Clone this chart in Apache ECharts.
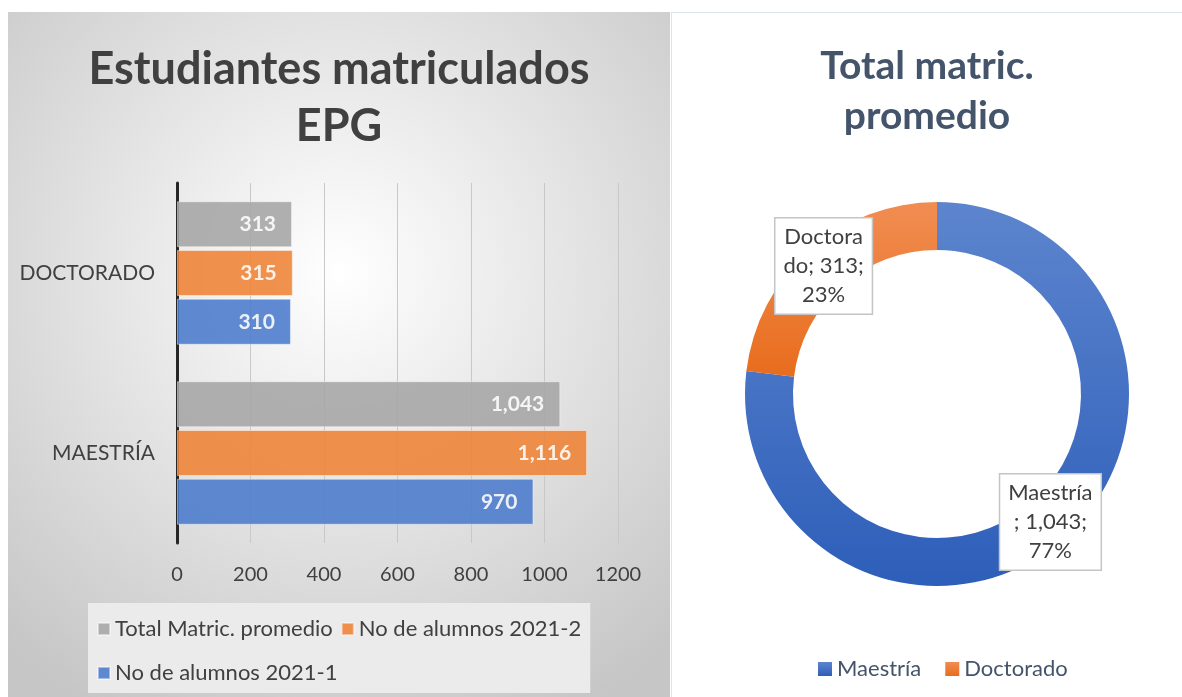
<!DOCTYPE html>
<html>
<head>
<meta charset="utf-8">
<script src="https://cdn.jsdelivr.net/npm/echarts@6/dist/echarts.min.js"></script>
<style>
  html, body { margin: 0; padding: 0; background: #fff; }
  #bar { position: absolute; left: 8px; top: 12px; width: 662px; height: 685px; }
  #pie { position: absolute; left: 671px; top: 12px; width: 511px; height: 685px;
         border-top: 1px solid #dfe4ea; border-left: 1px solid #e2e2e2; box-sizing: border-box; }
</style>
</head>
<body>
<div id="bar"></div>
<div id="pie"></div>
<script>
// datos del grafico de barras (de abajo hacia arriba)
const categories = ['MAESTRÍA', 'DOCTORADO'];
const alumnos2021_1 = [970, 310];
const alumnos2021_2 = [1116, 315];
const totalPromedio = [1043, 313];
const xTicks = [0, 200, 400, 600, 800, 1000, 1200];

// datos del anillo
const pieNames = ['Maestría', 'Doctorado'];
const pieValues = [1043, 313];

const FONT = 'Lato';
const fmt = v => Number(v).toLocaleString('en-US');

// corte de linea por caracteres, como lo hace Excel en las etiquetas
const LABEL_SIZE = 22;
const ctx = document.createElement('canvas').getContext('2d');
ctx.font = LABEL_SIZE + 'px ' + FONT;
const wrapW = Math.max(ctx.measureText('Maestría').width, ctx.measureText('Doctora').width) + 1;
function wrap(text) {
  const lines = [];
  let cur = '';
  for (const ch of text) {
    if (cur && ctx.measureText(cur + ch).width > wrapW) {
      lines.push(cur.trim());
      cur = ch;
    } else {
      cur += ch;
    }
  }
  if (cur) lines.push(cur.trim());
  return lines.join('\n');
}

function barSeries(name, data, color) {
  return {
    name: name,
    type: 'bar',
    data: data,
    barWidth: 46,
    barGap: '6%',
    itemStyle: { color: color, opacity: 0.88, borderColor: 'rgba(255,255,255,0.5)', borderWidth: 1 },
    label: {
      show: true, position: 'insideRight', distance: 16,
      color: '#fff', fontWeight: 'bold', fontSize: 21, fontFamily: FONT,
      formatter: p => fmt(p.value)
    }
  };
}

const barChart = echarts.init(document.getElementById('bar'));
barChart.setOption({
  backgroundColor: {
    type: 'radial', x: 0.5, y: 0.38, r: 0.75,
    colorStops: [{ offset: 0, color: '#ffffff' }, { offset: 1, color: '#c6c6c6' }]
  },
  title: {
    text: 'Estudiantes matriculados\nEPG',
    left: 'center', top: 24,
    textStyle: { fontFamily: FONT, fontSize: 45, fontWeight: 'bold', color: '#404040', lineHeight: 57 }
  },
  grid: { left: 169, top: 171, width: 441, height: 360 },
  xAxis: {
    type: 'value', min: xTicks[0], max: xTicks[xTicks.length - 1], interval: 200,
    axisLine: { show: false }, axisTick: { show: false },
    axisLabel: { fontFamily: FONT, fontSize: 20, color: '#404040', margin: 22, formatter: v => String(v) },
    splitLine: { lineStyle: { color: '#c8c8c8', width: 1 } }
  },
  yAxis: {
    type: 'category', data: categories,
    axisLine: { lineStyle: { color: '#262626', width: 3 } },
    axisTick: { show: false },
    axisLabel: { fontFamily: FONT, fontSize: 21, color: '#404040', margin: 22 }
  },
  legend: {
    data: ['Total Matric. promedio', 'No de alumnos 2021-2', 'No de alumnos 2021-1'],
    left: 80, top: 591, width: 500,
    backgroundColor: '#ebebeb',
    padding: [8, 9, 2, 9],
    itemWidth: 12, itemHeight: 12, itemGap: 8,
    icon: 'rect',
    textStyle: { fontFamily: FONT, fontSize: 22, color: '#404040', lineHeight: 36 }
  },
  series: [
    barSeries('Total Matric. promedio', totalPromedio, '#a5a5a5'),
    barSeries('No de alumnos 2021-2', alumnos2021_2, '#ee8236'),
    barSeries('No de alumnos 2021-1', alumnos2021_1, '#4a7acb')
  ]
});

const pieChart = echarts.init(document.getElementById('pie'));
const pieColors = [
  { type: 'linear', x: 0, y: 0, x2: 0, y2: 1, colorStops: [{ offset: 0, color: '#5d85ce' }, { offset: 1, color: '#2d5eb9' }] },
  { type: 'linear', x: 0, y: 0, x2: 0, y2: 1, colorStops: [{ offset: 0, color: '#f18d52' }, { offset: 1, color: '#e86d1d' }] }
];
pieChart.setOption({
  title: {
    text: 'Total matric.\npromedio',
    left: 'center', top: 23, padding: [5, 0, 5, 12],
    textStyle: { fontFamily: FONT, fontSize: 39, fontWeight: 'bold', color: '#44546a', lineHeight: 50 }
  },
  legend: {
    bottom: 12, left: 141,
    itemWidth: 14, itemHeight: 14, itemGap: 24, icon: 'rect',
    textStyle: { fontFamily: FONT, fontSize: 22, color: '#44546a' }
  },
  series: [{
    type: 'pie',
    center: [265, 381],
    radius: [144, 192],
    startAngle: 90,
    data: pieNames.map((n, i) => ({ name: n, value: pieValues[i], itemStyle: { color: pieColors[i] } })),
    label: {
      show: true, position: 'inside',
      formatter: p => wrap(p.name + '; ' + fmt(p.value) + '; ' + Math.round(p.percent) + '%'),
      align: 'center',
      fontFamily: FONT, fontSize: LABEL_SIZE, color: '#404040', lineHeight: 29,
      backgroundColor: '#fff', borderColor: '#c4c4c4', borderWidth: 1.5, padding: [4, 8, 4, 8]
    },
    labelLine: { show: false },
    emphasis: { disabled: true }
  }]
});
</script>
</body>
</html>
